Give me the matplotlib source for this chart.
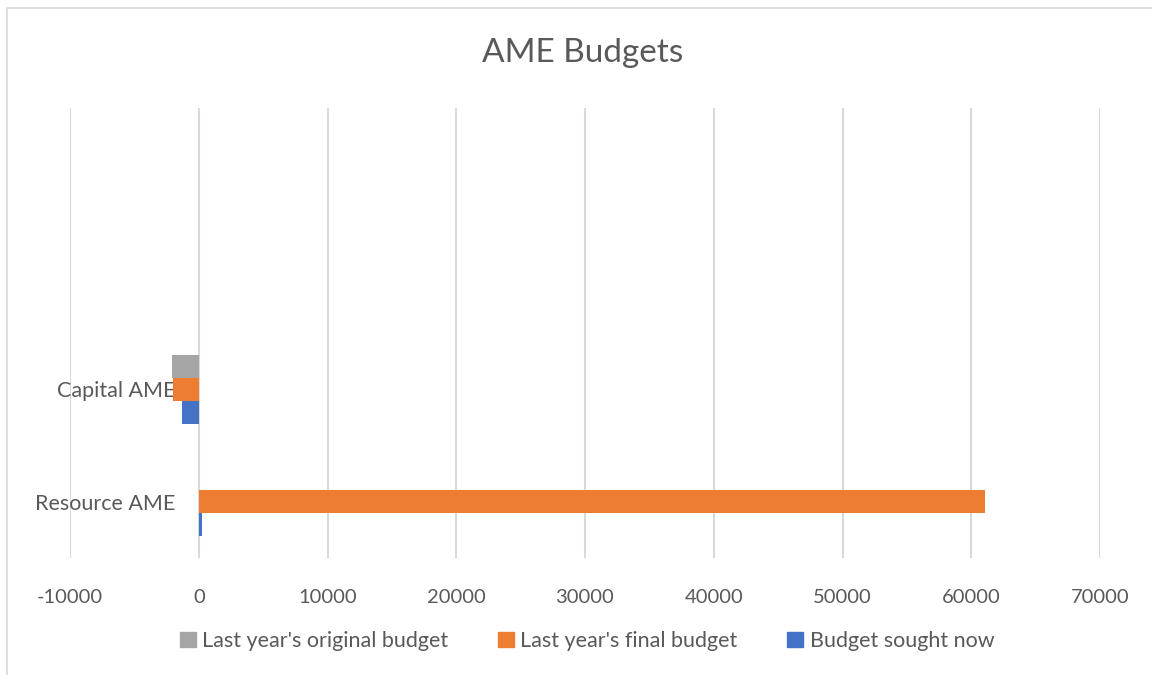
import matplotlib.pyplot as plt
from matplotlib.patches import Patch, Rectangle
import numpy as np

# categories bottom to top (Excel keeps two blank rows above)
categories = ["Resource AME", "Capital AME", "", ""]
budget_sought_now = [250, -1300, 0, 0]
last_year_final = [61100, -2000, 0, 0]
last_year_original = [0, -2100, 0, 0]

series_names = ["Budget sought now", "Last year's final budget", "Last year's original budget"]
series_colors = ["#4472C4", "#ED7D31", "#A5A5A5"]
x_ticks = list(range(-10000, 70001, 10000))

plt.rcParams['font.family'] = ['Lato', 'DejaVu Sans']
text_color = "#595959"

fig = plt.figure(figsize=(11.52, 6.75), dpi=100)
ax = fig.add_axes([70 / 1152, 1 - 558 / 675, 1030 / 1152, 450 / 675])

# chart border (only top/left visible in the crop)
fig.patches.append(Rectangle((7 / 1152, -0.1), 1.2, 1 - 8 / 675 + 0.1,
                             transform=fig.transFigure, fill=False,
                             edgecolor="#D9D9D9", linewidth=1.2))

y = np.arange(len(categories))
h = 0.204
all_series = [budget_sought_now, last_year_final, last_year_original]
for k, (vals, col) in enumerate(zip(all_series, series_colors)):
    ax.barh(y + (k - 1) * h, vals, height=h, color=col, zorder=3)

ax.set_xlim(-10000, 70000)
ax.set_ylim(-0.5, len(categories) - 0.5)
ax.set_xticks(x_ticks)
ax.set_xticklabels([str(v) for v in x_ticks])
ax.set_yticks(y)
ax.set_yticklabels(categories)
ax.grid(axis='x', color="#D9D9D9", linewidth=1.5, zorder=0)
ax.grid(axis='y', visible=False)

ax.spines['left'].set_position(('data', 0))
for s in ax.spines.values():
    s.set_visible(False)
ax.tick_params(axis='x', length=0, pad=22, labelsize=14.5, labelcolor=text_color)
ax.tick_params(axis='y', length=0, pad=17, labelsize=15.5, labelcolor=text_color)

fig.text(583 / 1152, 1 - 53 / 675, "AME Budgets", ha='center', va='center',
         fontsize=24, color=text_color)

handles = [Patch(color=series_colors[i]) for i in (2, 1, 0)]
labels = [series_names[i] for i in (2, 1, 0)]
fig.legend(handles, labels, loc='center', bbox_to_anchor=(587 / 1152, 1 - 641 / 675),
           ncol=3, frameon=False, fontsize=15.5, labelcolor=text_color,
           handlelength=0.75, handleheight=0.75, handletextpad=0.3, columnspacing=2.3)

fig.savefig("out.png", dpi=100)
